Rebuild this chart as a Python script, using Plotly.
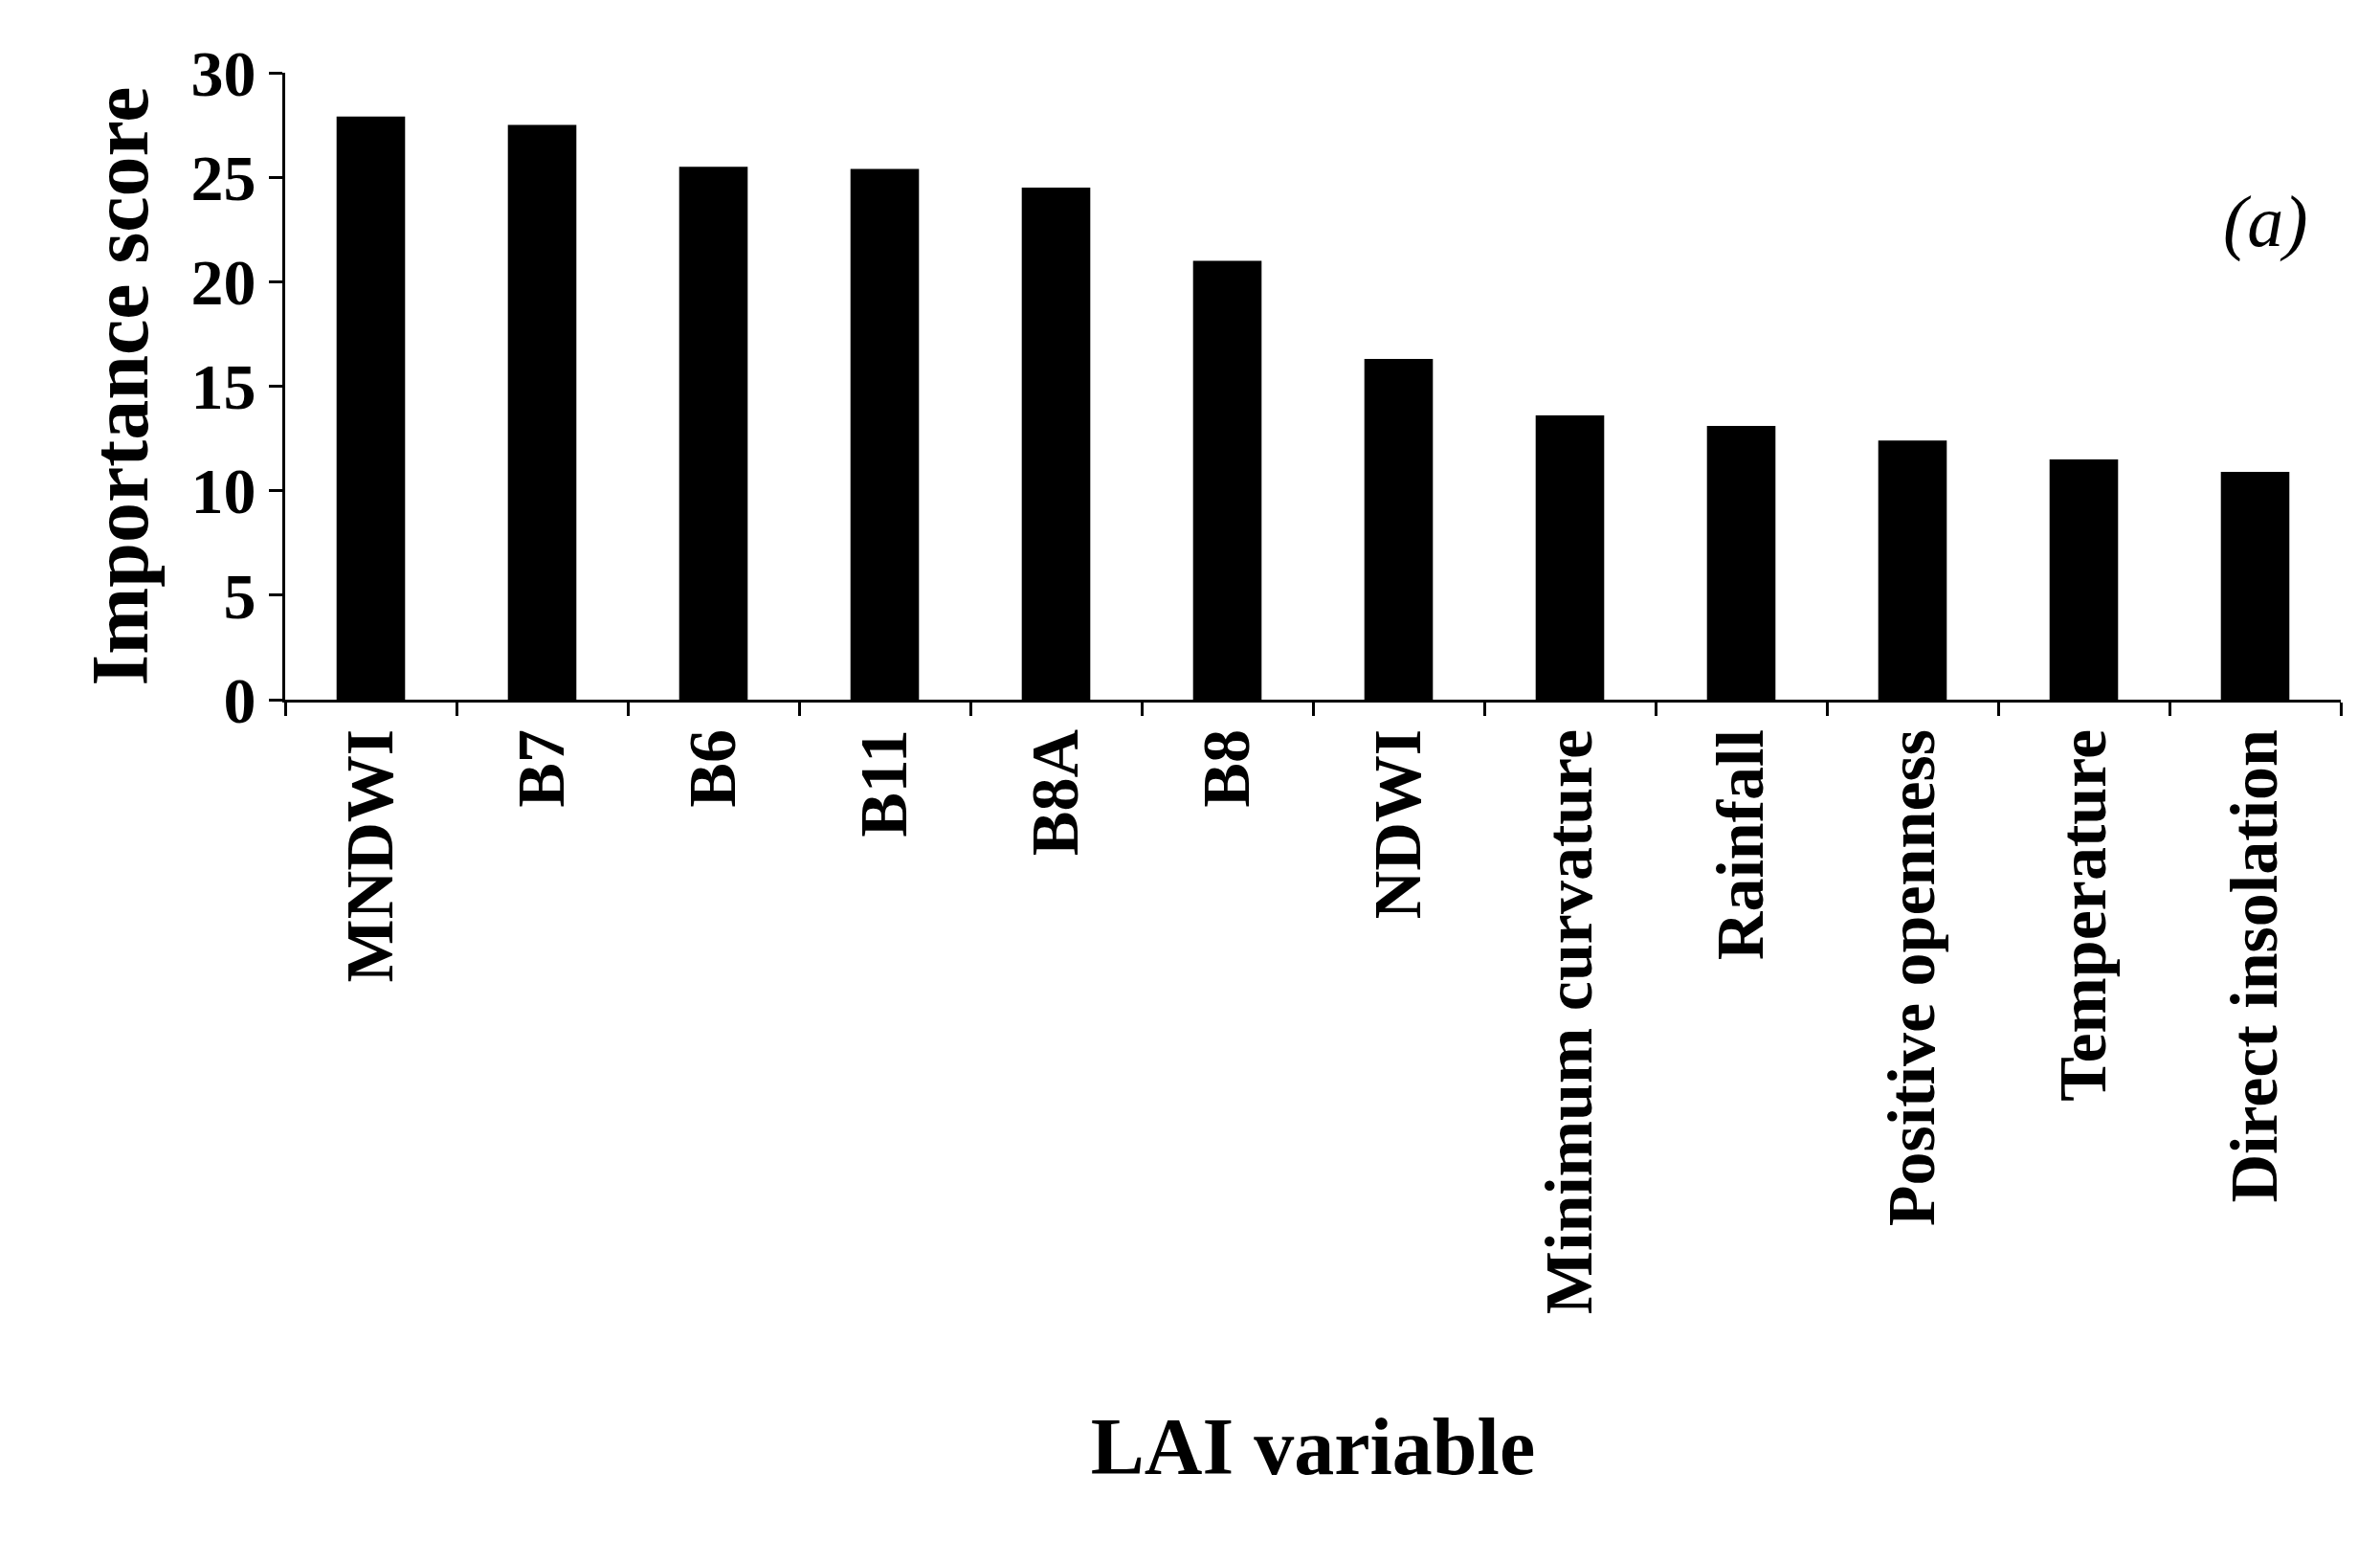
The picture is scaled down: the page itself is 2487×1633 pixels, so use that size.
import plotly.graph_objects as go

categories = ["MNDWI", "B7", "B6", "B11", "B8A", "B8", "NDWI", "Minimum curvature",
              "Rainfall", "Positive openness", "Temperature", "Direct insolation"]
scores = [27.9, 27.5, 25.5, 25.4, 24.5, 21.0, 16.3, 13.6, 13.1, 12.4, 11.5, 10.9]

font = "Liberation Serif"
fig = go.Figure(go.Bar(x=categories, y=scores, marker=dict(color="black", line=dict(width=0))))
fig.update_layout(
    width=2487, height=1633, plot_bgcolor="white", paper_bgcolor="white",
    margin=dict(l=290, r=49, t=68, b=910), bargap=0.6, showlegend=False,
    font=dict(family=font, color="black"),
)
fig.update_xaxes(
    showline=True, linecolor="black", linewidth=3, ticks="outside", tickson="boundaries",
    ticklen=14, tickwidth=3, tickcolor="black", tickangle=-90,
    tickfont=dict(family=font, size=70, color="black", weight="bold"),
    title=dict(text="<b>LAI variable</b>", font=dict(family=font, size=84), standoff=110),
)
fig.update_yaxes(
    range=[0, 30], dtick=5, showline=True, linecolor="black", linewidth=3,
    ticks="outside", ticklen=14, tickwidth=3, tickcolor="black", showgrid=False, zeroline=False,
    tickfont=dict(family=font, size=68, color="black", weight="bold"),
    title=dict(text="<b>Importance score</b>", font=dict(family=font, size=84), standoff=18),
)
fig.add_annotation(text="<i>(a)</i>", xref="paper", yref="paper", x=0.985, y=0.83,
                   showarrow=False, xanchor="right", font=dict(family=font, size=76, color="black"))
fig.write_html("out.html")
